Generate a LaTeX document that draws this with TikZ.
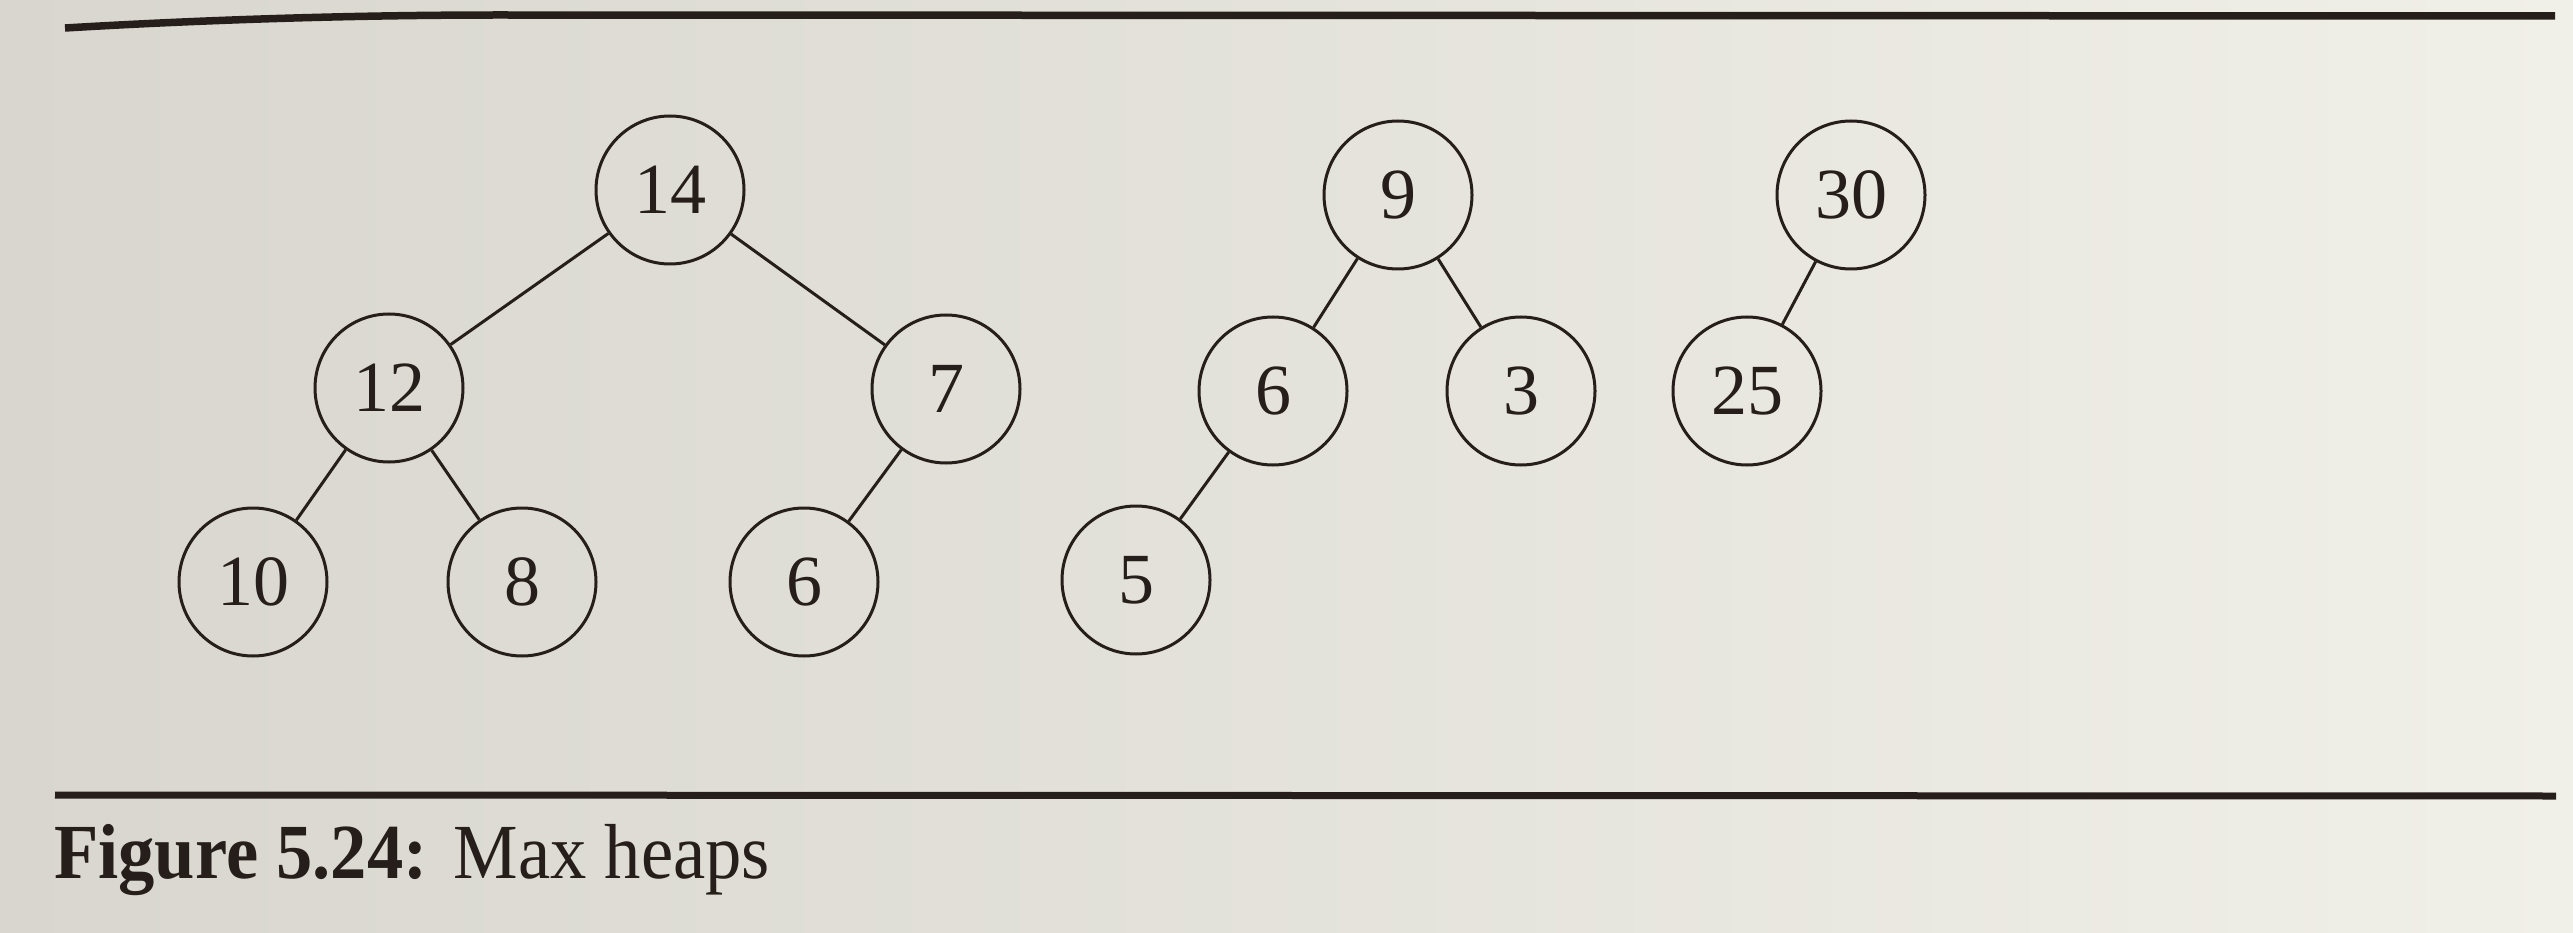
\documentclass[tikz,border=0pt]{standalone}
\usepackage{fontspec}
\usepackage{graphicx}
\setmainfont{Liberation Serif}
\definecolor{paperL}{RGB}{216,214,206}
\definecolor{paperR}{RGB}{240,239,232}
\definecolor{ink}{RGB}{38,30,27}
\tikzset{
  hnode/.style={circle, draw=ink, line width=3pt, minimum size=148pt, inner sep=0pt,
    text=ink, font=\fontsize{72}{80}\selectfont},
  hedge/.style={draw=ink, line width=3pt},
  rule/.style={draw=ink, line width=7.5pt}
}
\begin{document}
\begin{tikzpicture}[x=1pt,y=-1pt]
\shade[left color=paperL, right color=paperR] (0,0) rectangle (2573,933);
\useasboundingbox (0,0) rectangle (2573,933);
% rules
\coordinate (tl) at (65,28);
\coordinate (tr) at (2555,16);
\coordinate (bl) at (55,795);
\coordinate (br) at (2556,796);
\draw[rule] (tl) .. controls (200,20) and (350,15) .. (500,15) -- (tr);
\draw[rule, line width=7pt] (bl) -- (br);
% tree 1
\node[hnode] (a14) at (670,190) {14};
\node[hnode] (a12) at (389,388) {12};
\node[hnode] (a7)  at (946,389) {7};
\node[hnode] (a10) at (253,582) {10};
\node[hnode] (a8)  at (522,582) {8};
\node[hnode] (a6)  at (804,582) {6};
% tree 2
\node[hnode] (b9) at (1398,195) {9};
\node[hnode] (b6) at (1273,391) {6};
\node[hnode] (b3) at (1521,391) {3};
\node[hnode] (b5) at (1136,580) {5};
% tree 3
\node[hnode] (c30) at (1851,195) {30};
\node[hnode] (c25) at (1747,391) {25};
% edges
\draw[hedge] (a14) -- (a12);
\draw[hedge] (a14) -- (a7);
\draw[hedge] (a12) -- (a10);
\draw[hedge] (a12) -- (a8);
\draw[hedge] (a7) -- (a6);
\draw[hedge] (b9) -- (b6);
\draw[hedge] (b9) -- (b3);
\draw[hedge] (b6) -- (b5);
\draw[hedge] (c30) -- (c25);
% caption
\node[anchor=base west, inner sep=0pt, text=ink, font=\fontsize{78}{84}\selectfont] (cap) at (54,878)
  {\scalebox{0.93}[1]{\textbf{Figure 5.24:}\hspace{28pt}Max heaps}};
\end{tikzpicture}
\end{document}
